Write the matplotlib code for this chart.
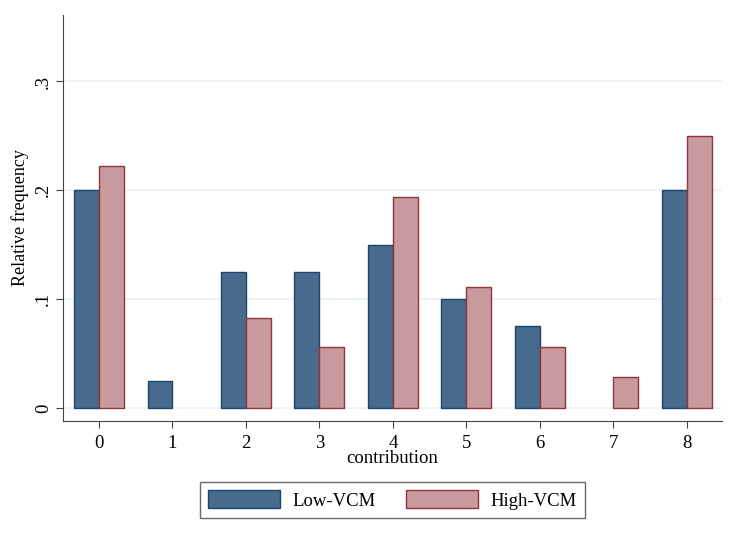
import numpy as np
import matplotlib
matplotlib.use("Agg")
import matplotlib.pyplot as plt

# relative frequency of contributions by group
contribution = [0, 1, 2, 3, 4, 5, 6, 7, 8]
low_vcm = [0.200, 0.025, 0.125, 0.125, 0.150, 0.100, 0.075, 0.0, 0.200]
high_vcm = [0.222, 0.0, 0.083, 0.056, 0.194, 0.111, 0.056, 0.028, 0.250]
y_ticks = [0, 0.1, 0.2, 0.3]
y_tick_labels = ["0", ".1", ".2", ".3"]

plt.rcParams['font.family'] = ['Liberation Serif', 'DejaVu Serif']
fs = 13.5

fig = plt.figure(figsize=(7.33, 5.38), dpi=100)
ax = fig.add_axes([0.086, 0.2175, 0.899, 0.7545])

x = np.array(contribution)
w = 0.34
# empty bars get no outline
lw_low = [1.0 if v > 0 else 0 for v in low_vcm]
lw_high = [1.0 if v > 0 else 0 for v in high_vcm]
ax.bar(x - w / 2, low_vcm, width=w, color='#476a8d', edgecolor='#1a476f',
       linewidth=lw_low, label='Low-VCM', zorder=3)
ax.bar(x + w / 2, high_vcm, width=w, color='#c99a9e', edgecolor='#90353b',
       linewidth=lw_high, label='High-VCM', zorder=3)

ax.set_xlim(-0.49, 8.48)
ax.set_ylim(-0.012, 0.361)
ax.set_xticks(contribution)
ax.set_xticklabels([str(c) for c in contribution], fontsize=fs)
ax.set_yticks(y_ticks)
ax.set_yticklabels(y_tick_labels, fontsize=fs, rotation=90, va='center')
ax.grid(axis='y', color='#eaf2f3', linewidth=1.2, zorder=0)

for s in ['top', 'right']:
    ax.spines[s].set_visible(False)
ax.spines['left'].set_color('#444444')
ax.spines['bottom'].set_color('#444444')
ax.tick_params(direction='out', length=5, color='#444444')
ax.tick_params(axis='x', pad=5)
ax.tick_params(axis='y', pad=3)

ax.set_xlabel('contribution', fontsize=fs, labelpad=-1)
ax.set_ylabel('Relative frequency', fontsize=13, labelpad=4)

leg = ax.legend(loc='upper center', bbox_to_anchor=(0.5, -0.150), ncol=2,
                fontsize=fs, frameon=True, fancybox=False, edgecolor='#444444',
                handlelength=3.84, handleheight=1.07, columnspacing=1.65,
                borderpad=0.45, handletextpad=0.64, borderaxespad=0)
leg.get_frame().set_linewidth(1.0)
for h in leg.legend_handles:
    h.set_linewidth(1.0)

fig.savefig('out.png', dpi=100)
